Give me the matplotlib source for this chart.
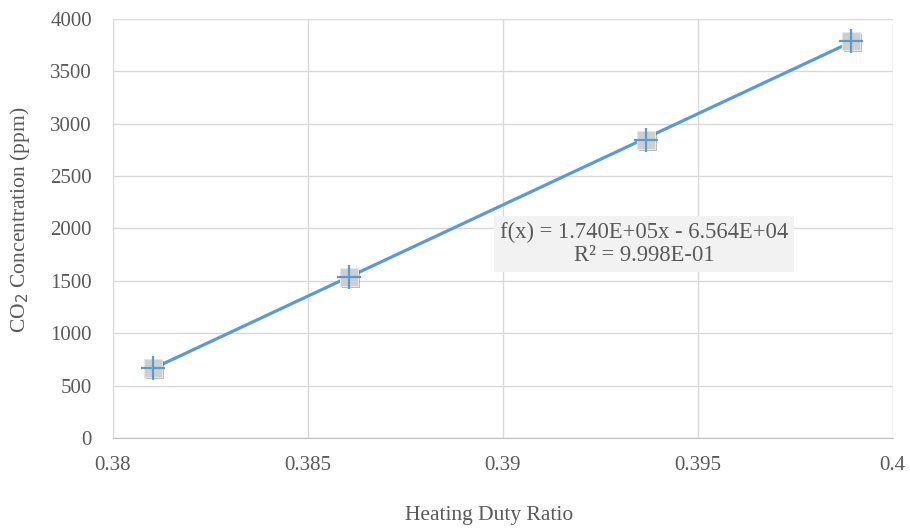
import numpy as np
import matplotlib.pyplot as plt
import matplotlib.patheffects as pe

# Measured points
duty_ratio = [0.38103, 0.38605, 0.39367, 0.39892]
co2_ppm = [668, 1537, 2845, 3790]

x_ticks = [0.38, 0.385, 0.39, 0.395, 0.4]
x_tick_labels = ['0.38', '0.385', '0.39', '0.395', '0.4']
y_ticks = [0, 500, 1000, 1500, 2000, 2500, 3000, 3500, 4000]

fit_text = 'f(x) = 1.740E+05x - 6.564E+04\nR² = 9.998E-01'

plt.rcParams['font.family'] = ['Liberation Serif', 'DejaVu Serif']

fig = plt.figure(figsize=(9.1, 5.28), dpi=100)
ax = fig.add_axes([0.124, 0.1705, 0.857, 0.7935])

ax.set_xlim(0.38, 0.4)
ax.set_ylim(0, 4000)
ax.set_xticks(x_ticks)
ax.set_xticklabels(x_tick_labels)
ax.set_yticks(y_ticks)
ax.grid(True, color='#d9d9d9', linewidth=1.0)
ax.set_axisbelow(True)
for side in ['top', 'right']:
    ax.spines[side].set_visible(False)
ax.spines['left'].set_color('#d9d9d9')
ax.spines['bottom'].set_color('#bfbfbf')
ax.tick_params(length=0, labelsize=15, labelcolor='#595959')
ax.tick_params(axis='x', pad=13)
ax.tick_params(axis='y', pad=15)

# Linear fit line
coef = np.polyfit(duty_ratio, co2_ppm, 1)
xs = np.array([min(duty_ratio), max(duty_ratio)])
ax.plot(xs, np.polyval(coef, xs), color='#5b9bd5', linewidth=2.3, zorder=3)

# Markers: grey square with blue cross, soft shadow
shadow = [pe.SimplePatchShadow(offset=(1.5, -1.5), alpha=0.35), pe.Normal()]
ax.scatter(duty_ratio, co2_ppm, marker='s', s=170, color='#cfcfcf',
           edgecolors='#e6e6e6', linewidths=0.8, zorder=4, path_effects=shadow)
ax.scatter(duty_ratio, co2_ppm, marker='+', s=300, color='#5b9bd5',
           linewidths=1.6, zorder=5)

ax.text(0.39362, 1852, fit_text, ha='center', va='center', fontsize=16.3,
        color='#595959', linespacing=1.1,
        bbox=dict(boxstyle='square,pad=0.25', facecolor='#f2f2f2', edgecolor='none'),
        zorder=6)

ax.set_xlabel('Heating Duty Ratio', fontsize=15.5, color='#595959')
ax.set_ylabel('CO$_2$ Concentration (ppm)', fontsize=15.5, color='#595959')
ax.xaxis.set_label_coords(0.483, -0.162)
ax.yaxis.set_label_coords(-0.104, 0.52)

fig.savefig('out.png', dpi=100)
